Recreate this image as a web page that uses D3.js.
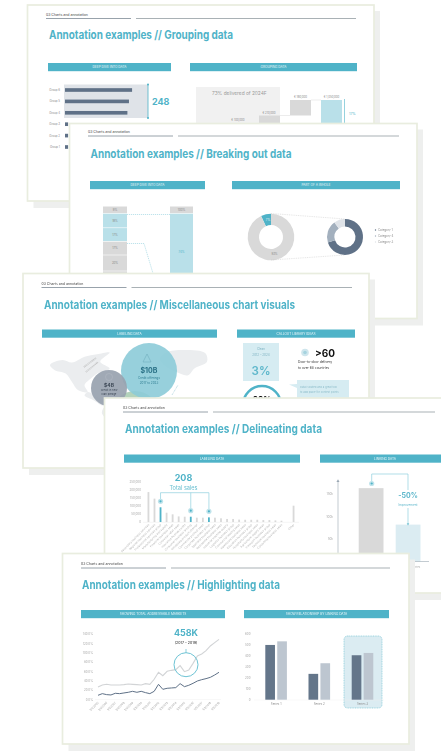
<!DOCTYPE html>
<html><head><meta charset="utf-8">
<script src="https://cdn.jsdelivr.net/npm/d3@7/dist/d3.min.js"></script>
<style>html,body{margin:0;padding:0;background:#fff;overflow:hidden}svg{display:block;filter:blur(.5px);font-family:Inter,"Noto Sans",sans-serif}</style>
</head><body><svg id="c" width="441" height="753"></svg>
<script>
// ---------- data ----------
const slideSection = "03 Charts and annotation";
const groupNames = ["Group 6","Group 5","Group 4","Group 3","Group 2","Group 1"];
const groupValues = [86,82,80,4,4,4];
const stackLeft = [9,18,17,17,20,19];
const stackLeftHighlight = [false,true,true,false,false,false];
const stackRight = [9,95];
const stackRightLabels = ["100%","74%"];
const donutMain = [7,93];
const donutDetail = [70,20,10];
const donutLegend = ["Category 1","Category 4","Category 3"];
const salesNames = ["Secondary business services","Regional business services","Professional services group","Manufacturing and supply","Financial business sales","Consumer retail sales","Insurance business units","Consumer business lending","Wholesale product channel","Commercial product sales","Corporate business group","Specialist business sales","Residential business sales","Industrial machine supply","Logistics business group","Commercial leasing sales","Healthcare business sales","Education business group","Hospitality business sales","Agricultural supply sales","Transport business group","Technical business sales","Consulting business sales","","Other"];
const salesValues = [187000,146000,92000,58000,48000,35000,33000,33000,27000,27000,29000,27000,23000,19000,19000,15000,14000,14000,14000,12000,12000,10000,8000,0,102000];
const salesHighlighted = ["Professional services group","Consumer business lending","Corporate business group"];
const salesTicks = [0,50000,100000,150000,200000,250000];
const linkValues = [163,82];
const linkTicks = [50,100,150];
const marketYears = ["1/1/2005","1/1/2006","1/1/2007","1/1/2008","1/1/2009","1/1/2010","1/1/2011","1/1/2012","1/1/2013","1/1/2014","1/1/2015","1/1/2016","1/1/2017","1/1/2018","1/1/2019"];
const marketTotal = [26.4,30.7,32.1,30.7,30.7,30.7,31.4,32.9,32.1,31.4,30.7,33.6,32.1,42.9,57.9,50.7,60,62.1,63.6,72.1,59.3,62.9,77.1,92.9,97.1,104.3,114.3,121.4,128.6];
const marketShare = [8.6,12.1,10,9.3,12.9,12.1,13.6,15,17.1,15,17.1,14.3,12.1,17.1,32.1,21.4,23.6,24.3,25,33.6,27.1,30,34.3,39.3,42.1,44.3,47.1,52.1,57.9];
const seriesNames = ["Series 1","Series 2","Series 3"];
const seriesA = [500,236,406];
const seriesB = [533,333,427];
// rough continents in a 0–100 map space (decorative background)
const mapShapes = [
 [[0,18],[8,12],[14,15],[22,8],[30,5],[38,3],[32,14],[38,22],[30,28],[26,34],[22,42],[24,50],[18,48],[14,38],[10,28],[3,24]],
 [[24,50],[30,56],[36,62],[34,66],[28,60],[22,54]],
 [[36,66],[44,68],[50,76],[46,86],[40,98],[37,98],[36,84],[33,74]],
 [[74,3],[86,0],[99,4],[100,14],[92,22],[88,30],[80,26],[74,20],[70,10]]
];

// ---------- palette ----------
const teal="#4fb3c8", pale="#b9e0e9", paler="#dbecf2", grey="#d9d9d9", dark="#5f7187", mid="#a3b0be", light="#dfe3e8", beige="#e9eddf", shadow="#eeefee", tickc="#a8a8a8";

const svg=d3.select("#c");
const T=(g,x,y,s,o={})=>g.append("text").attr("x",x).attr("y",y).attr("dy",".35em").text(s)
  .attr("font-size",o.size||3).attr("fill",o.fill||"#8a8a8a").attr("font-weight",o.weight||400).attr("text-anchor",o.anchor||"start");
const R=(g,x0,y0,x1,y1,fill)=>g.append("rect").attr("x",x0).attr("y",y0).attr("width",x1-x0).attr("height",y1-y0).attr("fill",fill);
const L=(g,pts,stroke,w,dash)=>g.append("path").attr("d",d3.line()(pts)).attr("fill","none").attr("stroke",stroke).attr("stroke-width",w).attr("stroke-dasharray",dash||null);

function slide(x0,y0,x1,y1,title,lx,ly,tx,ty,titleW,rx){
  const g=svg.append("g");
  R(g,x0+6,y0+6,x1+6,y1+7,shadow);
  g.append("rect").attr("x",x0).attr("y",y0).attr("width",x1-x0).attr("height",y1-y0).attr("fill","#fff").attr("stroke",beige).attr("stroke-width",1.7);
  T(g,lx,ly,slideSection,{size:3.5,fill:"#444"});
  L(g,[[lx,ly+4],[lx+85,ly+4]],"#7d8a96",.8);
  L(g,[[lx+90,ly+4],[rx,ly+4]],"#a9b1b5",1);
  T(g,tx,ty,title,{size:11.8,fill:teal,weight:700}).attr("textLength",titleW).attr("lengthAdjust","spacingAndGlyphs");
  return g;
}
function header(g,x0,x1,y,s){
  R(g,x0,y,x1,y+8.2,teal);
  T(g,(x0+x1)/2,y+4.1,s,{size:3.2,fill:"#eaf6f9",anchor:"middle"});
}
function tidy(ax,size,fill){
  ax.selectAll("path,line").remove();
  ax.selectAll("text").attr("font-size",size).attr("fill",fill||tickc).attr("font-family",'Inter,"Noto Sans",sans-serif');
}

// ========== Slide 1 ==========
{
 const g=slide(27.5,5,374,201,"Annotation examples // Grouping data",46,14.5,49,35,184,356);
 header(g,48,171,63,"DEEP DIVE INTO DATA");
 header(g,190,357,63,"GROUPING DATA");
 R(g,64,84.5,148,118,light);
 const x=d3.scaleLinear().domain([0,100]).range([65,143]);
 const y=d3.scaleBand().domain(groupNames).range([84.3,152.7]).paddingInner(.68).paddingOuter(.34);
 g.selectAll(".gb").data(groupNames).join("rect").attr("x",x(0)).attr("y",d=>y(d)).attr("width",(d,i)=>x(groupValues[i])-x(0)).attr("height",y.bandwidth()).attr("fill",dark);
 groupNames.forEach(n=>T(g,60,y(n)+y.bandwidth()/2,n,{size:2.8,anchor:"end"}));
 L(g,[[148,84.5],[148,118]],teal,.8);
 g.selectAll(".ge").data([84.5,118]).join("circle").attr("cx",148).attr("cy",d=>d).attr("r",1).attr("fill",teal);
 T(g,152,101.5,"248",{size:9,fill:teal,weight:700});
 // waterfall
 R(g,196,87,280,201,"#f1f1f1");
 T(g,212,93,"73% delivered of 2024F",{size:4.8,fill:"#9a9a9a"});
 T(g,238,120,"€ 100,000",{size:2.8,anchor:"middle"});
 R(g,259,115.5,280,201,grey); T(g,269,113,"€ 210,000",{size:2.8,anchor:"middle"});
 R(g,290,100,311,115.5,grey); T(g,300.5,97.5,"€ 180,000",{size:2.8,anchor:"middle"});
 R(g,321,100,342,201,pale); T(g,331.5,97.5,"€ 1,050,000",{size:2.8,anchor:"middle"});
 L(g,[[280,115.5],[290,115.5]],grey,.5); L(g,[[311,100],[321,100]],grey,.5);
 L(g,[[344.5,99],[344.5,125]],teal,.6);
 T(g,349,113.5,"17%",{size:3.4,fill:teal});
}

// ========== Slide 2 ==========
{
 const g=slide(69.5,123.5,417,318.5,"Annotation examples // Breaking out data",88,132,90.5,153.5,201,399);
 header(g,90,205,181,"DEEP DIVE INTO DATA");
 header(g,232,400,181,"PART OF A WHOLE");
 const h=d3.scaleLinear().domain([0,100]).range([0,80]);
 const col=(vals,x0,x1,fillFn,labelFn)=>{let yy=206.5;vals.forEach((v,i)=>{R(g,x0,yy,x1,yy+h(v)-.6,fillFn(i));T(g,(x0+x1)/2,yy+h(v)/2,labelFn(v,i),{size:2.8,anchor:"middle",fill:fillFn(i)==pale&&i==1&&vals.length==2?teal:"#888"});yy+=h(v);});};
 col(stackLeft,103,127,i=>stackLeftHighlight[i]?pale:grey,v=>v+"%");
 col(stackRight,170,193,i=>i?pale:grey,(v,i)=>stackRightLabels[i]);
 L(g,[[127,214.5],[170,214.5]],"#7cc7d6",.5,"1.2 .8");
 L(g,[[127,243.5],[144,243.5],[155,280]],"#7cc7d6",.5,"1.2 .8");
 const arc=(ri,ro)=>d3.arc().innerRadius(ri).outerRadius(ro);
 const pieM=d3.pie().sort(null).startAngle(-2*Math.PI*donutMain[0]/100).endAngle(2*Math.PI-2*Math.PI*donutMain[0]/100)(donutMain);
 const g1=g.append("g").attr("transform","translate(271,237)");
 g1.selectAll("path").data(pieM).join("path").attr("d",arc(12,23.3)).attr("fill",(d,i)=>i?grey:teal);
 T(g1,-3,-17,"7%",{size:2.8,fill:"#e8f6f9",anchor:"middle"});
 T(g1,3.5,17.5,"93%",{size:2.8,anchor:"middle"});
 const g2=g.append("g").attr("transform","translate(345,237)");
 g2.selectAll("path").data(d3.pie().sort(null)(donutDetail)).join("path").attr("d",arc(10.5,18)).attr("fill",(d,i)=>[dark,mid,light][i]);
 L(g,[[271,213.5],[345,219]],"#bbb",.4,"1 .8");
 L(g,[[271,260],[345,255]],"#bbb",.4,"1 .8");
 donutLegend.forEach((n,i)=>{const yy=230+i*6;g.append("circle").attr("cx",375.5).attr("cy",yy).attr("r",.7).attr("fill",[dark,mid,light][i]);T(g,378,yy,n,{size:2.9});});
}

// ========== Slide 3 ==========
{
 const g=slide(23,273.5,369,468,"Annotation examples // Miscellaneous chart visuals",41.5,283.5,44,304.5,251,352);
 header(g,42,217,329.5,"LABELING DATA");
 header(g,237,355,329.5,"CALLOUT LIBRARY IDEAS");
 const mx=d3.scaleLinear().domain([0,100]).range([50,207]);
 const my=d3.scaleLinear().domain([0,100]).range([350,434]);
 const shape=d3.line().x(d=>mx(d[0])).y(d=>my(d[1])).curve(d3.curveCatmullRomClosed.alpha(.6));
 g.selectAll(".m").data(mapShapes).join("path").attr("d",shape).attr("fill","#ebedef");
 g.append("circle").attr("cx",135).attr("cy",415).attr("r",24).attr("fill","#b4d3bb");
 g.append("circle").attr("cx",149).attr("cy",371).attr("r",28).attr("fill","#8ccbd8").attr("opacity",.9);
 g.append("circle").attr("cx",109).attr("cy",388).attr("r",18).attr("fill","#98a2af").attr("opacity",.92);
 L(g,[[143,362],[147,354],[151,362],[143,362]],"#6aa9b9",.5);
 T(g,149,371,"$10B",{size:7,fill:"#2a7186",weight:700,anchor:"middle"});
 T(g,149,378,"Credit offerings",{size:3,fill:"#2f7d92",anchor:"middle"});
 T(g,149,383,"2017 to 2023",{size:3,fill:"#2f7d92",anchor:"middle"});
 g.append("circle").attr("cx",109).attr("cy",377).attr("r",3.5).attr("fill","none").attr("stroke","#b4bbc5").attr("stroke-width",.5);
 T(g,109,385,"$4B",{size:5,fill:"#3f4a58",weight:700,anchor:"middle"});
 T(g,109,390,"Credit in new",{size:2.7,fill:"#3f4a58",anchor:"middle"});
 T(g,109,394.5,"loan pledge",{size:2.7,fill:"#3f4a58",anchor:"middle"});
 L(g,[[86,372],[98,362]],"#b5b5b5",1.6,".5 .7");
 L(g,[[84,367],[96,358]],"#b5b5b5",1.6,".5 .7");
 L(g,[[172,395],[178,385]],"#bfdde4",1,"1 .6");
 // callouts
 R(g,243,343,279,381,"#d6ecf2");
 T(g,261,349,"Clean",{size:3,fill:"#7fb4c3",anchor:"middle"});
 T(g,261,355,"2012 – 2024",{size:3,fill:"#7fb4c3",anchor:"middle"});
 T(g,261,370.5,"3%",{size:11.5,fill:"#5db7cb",weight:600,anchor:"middle"});
 g.append("circle").attr("cx",305).attr("cy",352.5).attr("r",3.8).attr("fill","#cfe6ed");
 g.append("circle").attr("cx",305).attr("cy",352.5).attr("r",1.8).attr("fill","#a6d3df");
 T(g,315,353,">60",{size:10,fill:"#111",weight:700});
 T(g,298,362,"Door-to-door delivery",{size:3.3,fill:"#333"});
 T(g,298,367.5,"to over 68 countries",{size:3.3,fill:"#333"});
 g.append("path").attr("d","M297 380H349V398H297V388L289 384.5L297 384Z").attr("fill","#d6ecf2");
 T(g,300,387.5,"Data isolated and a great tool",{size:2.7,fill:"#8fbecb"});
 T(g,300,392,"to add place for context points",{size:2.7,fill:"#8fbecb"});
 g.append("circle").attr("cx",262).attr("cy",405).attr("r",19).attr("fill","none").attr("stroke",teal).attr("stroke-width",2.4);
 T(g,262,399.5,"88%",{size:8,fill:"#111",weight:700,anchor:"middle"});
}

// ========== Slide 4 ==========
{
 const g=slide(104.5,398,460,593,"Annotation examples // Delineating data",123,408,125,428.5,197,435);
 header(g,124,300,454.5,"LABELING DATA");
 header(g,320,450,454.5,"LINKING DATA");
 const x=d3.scaleBand().domain(salesNames.map((d,i)=>i)).range([143.3,298.7]).padding(.7);
 const y=d3.scaleLinear().domain([0,250000]).range([522,482]);
 const ya=g.append("g").attr("transform","translate(141,0)").call(d3.axisLeft(y).tickValues(salesTicks).tickSize(0).tickPadding(0).tickFormat(d3.format(",")));
 tidy(ya,2.9);
 L(g,[[143,522.3],[299,522.3]],"#e6e6e6",.4);
 g.selectAll(".sb").data(salesValues).join("rect").attr("x",(d,i)=>x(i)).attr("width",x.bandwidth()).attr("y",d=>y(d)).attr("height",d=>522-y(d))
  .attr("fill",(d,i)=>salesHighlighted.includes(salesNames[i])?teal:grey);
 salesNames.forEach((n,i)=>{if(!n)return;
  g.append("text").attr("transform",`translate(${x(i)+x.bandwidth()/2+1},525) rotate(-45)`).attr("text-anchor","end").attr("font-size",2.8).attr("fill","#b5b5b5").text(n);});
 const hx=salesHighlighted.map(n=>x(salesNames.indexOf(n))+x.bandwidth()/2);
 const hy=salesHighlighted.map(n=>y(salesValues[salesNames.indexOf(n)])-8);
 L(g,[[hx[0],hy[0]],[hx[0],492.7],[hx[2],492.7],[hx[2],hy[2]]],"#8fd0de",.7);
 L(g,[[hx[1],492.7],[hx[1],hy[1]]],"#8fd0de",.7);
 hx.forEach((cx,i)=>{g.append("circle").attr("cx",cx).attr("cy",hy[i]+2).attr("r",2.6).attr("fill","#bfe3eb");g.append("circle").attr("cx",cx).attr("cy",hy[i]+2).attr("r",1.1).attr("fill",teal);});
 T(g,183.5,478,"208",{size:9,fill:teal,weight:700,anchor:"middle"});
 T(g,183.5,488,"Total sales",{size:5.6,fill:"#6cc0d1",anchor:"middle"});
 // linking
 const y2=d3.scaleLinear().domain([0,150]).range([561.5,494]);
 const a2=g.append("g").attr("transform","translate(333,0)").call(d3.axisLeft(y2).tickValues(linkTicks).tickSize(0).tickPadding(0).tickFormat(d=>d+"k"));
 tidy(a2,3);
 L(g,[[338,481],[338,575]],"#9aa7b3",.6);
 g.append("path").attr("d",d3.symbol(d3.symbolTriangle,4)()).attr("transform","translate(338,481)").attr("fill","#9aa7b3");
 const bx=d3.scaleBand().domain(linkValues.map((d,i)=>i)).range([352.8,426.4]).paddingInner(.33).paddingOuter(.16);
 g.selectAll(".lb").data(linkValues).join("rect").attr("x",(d,i)=>bx(i)).attr("width",bx.bandwidth()).attr("y",d=>y2(d)).attr("height",d=>561.5-y2(d)).attr("fill",(d,i)=>i?paler:grey);
 L(g,[[338,561.5],[429,561.5]],"#a9b4bd",.7);
 T(g,412,567,"Series",{size:2.8,fill:"#aaa"});
 L(g,[[371.7,483],[371.7,474],[408,474],[408,490]],"#8fd0de",.7);
 L(g,[[408,508],[408,523]],"#8fd0de",.7);
 g.append("path").attr("d",d3.symbol(d3.symbolTriangle,3)()).attr("transform","translate(408,524) rotate(180)").attr("fill","#6cc0d1");
 g.append("circle").attr("cx",371.7).attr("cy",483.5).attr("r",2.6).attr("fill","#bfe3eb");
 g.append("circle").attr("cx",371.7).attr("cy",483.5).attr("r",1.1).attr("fill",teal);
 T(g,408,496,"-50%",{size:7,fill:"#5db7cb",weight:700,anchor:"middle"});
 T(g,408,504.5,"Improvement",{size:3.1,fill:"#5db7cb",anchor:"middle"});
}

// ========== Slide 5 ==========
{
 const g=slide(62.5,553.5,409,744,"Annotation examples // Highlighting data",81,564,82,584.5,198,390);
 header(g,81,225,610,"SHOWING TOTAL ADDRESSABLE MARKETS");
 header(g,244,389,610,"SHOW RELATIONSHIP BY LINKING DATA");
 const x=d3.scaleLinear().domain([0,marketTotal.length-1]).range([98,219]);
 const y=d3.scaleLinear().domain([0,140]).range([699.3,634]);
 tidy(g.append("g").attr("transform","translate(93,0)").call(d3.axisLeft(y).ticks(7).tickSize(0).tickPadding(0).tickFormat(d=>d.toFixed(1)+"%")),2.9);
 L(g,[[95,699.5],[221,699.5]],"#eeeeee",.4);
 marketYears.forEach((n,i)=>{g.append("text").attr("transform",`translate(${x(i*2)+1},703) rotate(-45)`).attr("text-anchor","end").attr("font-size",2.9).attr("fill","#a8a8a8").text(n);});
 const ln=d3.line().x((d,i)=>x(i)).y(d=>y(d));
 g.append("path").attr("d",ln(marketTotal)).attr("fill","none").attr("stroke","#d2d4d6").attr("stroke-width",1.1);
 g.append("path").attr("d",ln(marketShare)).attr("fill","none").attr("stroke","#5f7187").attr("stroke-width",1);
 g.append("circle").attr("cx",186).attr("cy",664.7).attr("r",12).attr("fill","none").attr("stroke","#5dbccf").attr("stroke-width",.9);
 L(g,[[186,652.7],[186,649]],"#5dbccf",.7);
 T(g,186,633,"458K",{size:9,fill:teal,weight:700,anchor:"middle"});
 T(g,186,643,"(2017 – 2019)",{size:3.6,fill:"#222",anchor:"middle"});
 // bars
 const x0=d3.scaleBand().domain(seriesNames).range([254.5,384.1]).paddingInner(.5).paddingOuter(.25);
 const x1=d3.scaleBand().domain([0,1]).range([0,x0.bandwidth()]).paddingInner(.19);
 const y2=d3.scaleLinear().domain([0,600]).range([699.7,634]);
 g.append("rect").attr("x",344).attr("y",636).attr("width",38).attr("height",72).attr("rx",3.5).attr("fill","#dbecf2").attr("stroke","#7cc7d6").attr("stroke-width",.7).attr("stroke-dasharray","1 .7");
 tidy(g.append("g").attr("transform","translate(250.5,0)").call(d3.axisLeft(y2).ticks(6).tickSize(0).tickPadding(0)),2.9);
 L(g,[[254,700],[384,700]],"#eeeeee",.4);
 [seriesA,seriesB].forEach((arr,k)=>{
  g.selectAll(".b"+k).data(arr).join("rect").attr("x",(d,i)=>x0(seriesNames[i])+x1(k)).attr("width",x1.bandwidth()).attr("y",d=>y2(d)).attr("height",d=>699.7-y2(d)).attr("fill",k?"#bdc6d0":"#64768a");
 });
 seriesNames.forEach(n=>T(g,x0(n)+x0.bandwidth()/2,703.5,n,{size:2.9,anchor:"middle"}));
}
</script></body></html>
